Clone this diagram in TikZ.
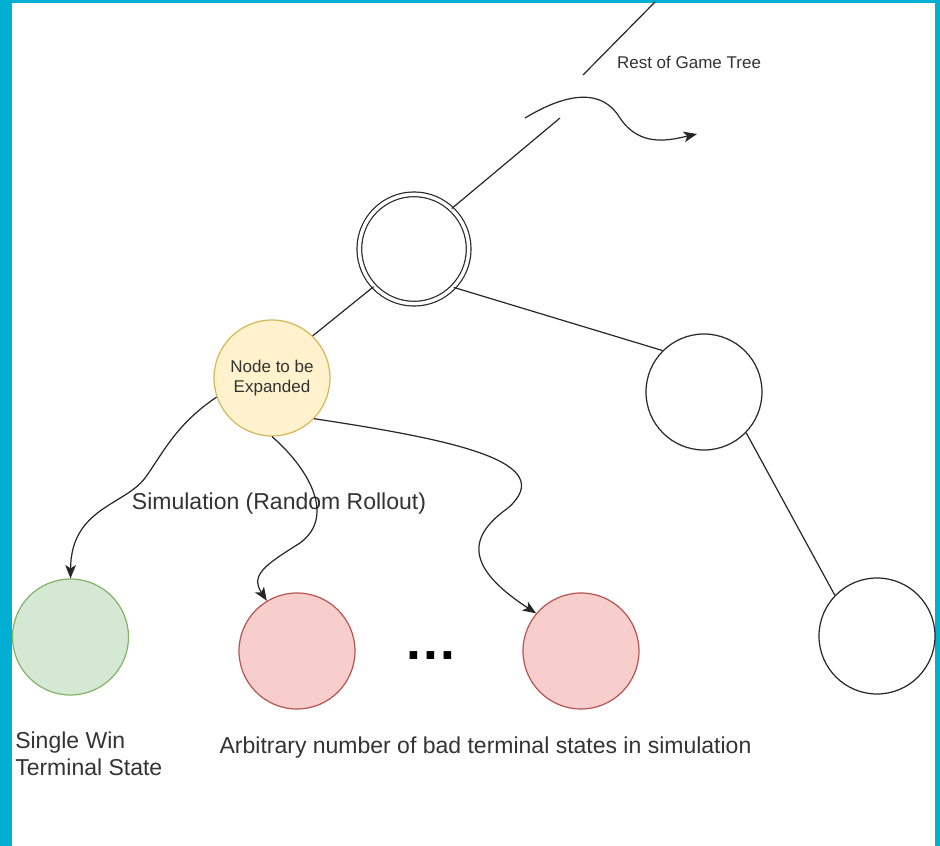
\documentclass[tikz,border=0pt]{standalone}
\usepackage{fontspec}
\setmainfont{Liberation Sans}
\usetikzlibrary{arrows.meta}
\definecolor{framecol}{RGB}{0,175,210}
\definecolor{yfill}{HTML}{FFF2CC}
\definecolor{ydraw}{HTML}{D6B656}
\definecolor{gfill}{HTML}{D5E8D4}
\definecolor{gdraw}{HTML}{82B366}
\definecolor{rfill}{HTML}{F8CECC}
\definecolor{rdraw}{HTML}{B85450}
\definecolor{txt}{HTML}{333333}
\begin{document}
\begin{tikzpicture}[x=0.75pt,y=-0.75pt,
  circ/.style={circle, draw=black!85, line width=0.9pt, minimum size=87pt, inner sep=0pt},
  rootc/.style={circle, draw=black!85, line width=0.9pt, double=white, double distance=2.6pt, minimum size=82pt, inner sep=0pt},
  edge/.style={draw=black!85, line width=0.9pt},
  arr/.style={edge, -{Stealth[length=10pt,width=8pt,inset=2.5pt]}},
  lbl/.style={text=txt, font=\fontsize{17.25pt}{20.25pt}\selectfont, inner sep=0pt},
  small/.style={text=txt, font=\fontsize{12.75pt}{15pt}\selectfont, align=center, inner sep=0pt}]
\fill[framecol] (0,0) rectangle (940,846);
\fill[white] (12,3) rectangle (935,846);
\useasboundingbox (0,0) rectangle (940,846);

% nodes
\node[rootc] (root) at (414,249) {};
\node[circ, fill=yfill, draw=ydraw, small] (exp) at (272,378) {Node to be\\Expanded};
\node[circ] (r1) at (704,392) {};
\node[circ] (r2) at (877,636) {};
\node[circ, fill=gfill, draw=gdraw] (win) at (70.5,637) {};
\node[circ, fill=rfill, draw=rdraw] (bad1) at (297,651) {};
\node[circ, fill=rfill, draw=rdraw] (bad2) at (581,651) {};
\node[text=black, inner sep=0pt, font=\fontsize{40pt}{40pt}\selectfont\bfseries] (dots) at (431,656) {.\kern1.5pt.\kern1.5pt.};

% labels
\node[small, anchor=center] (rest) at (689,62) {Rest of Game Tree};
\node[lbl] (sim) at (279,504) {Simulation (Random Rollout)};
\node[lbl, anchor=north west, align=left] (single) at (15,732) {Single Win\\Terminal State};
\node[lbl] (arb) at (485.5,748) {Arbitrary number of bad terminal states in simulation};

% free coordinates
\coordinate (topA) at (560,118);
\coordinate (topB) at (583,75);
\coordinate (topC) at (655,2);
\coordinate (cs) at (525,118);
\coordinate (cm) at (620,118);
\coordinate (ce) at (697,134);

% tree edges
\draw[edge] (root.47) -- (topA);
\draw[edge] (topB) -- (topC);
\draw[edge] (root.223) -- (exp.46);
\draw[edge] (root.-44) -- (r1.135);
\draw[edge] (r1.-44) -- (r2.136);

% rest of tree arrow
\draw[arr] (cs) .. controls (555,100) and (598,82) .. (cm) .. controls (640,148) and (670,140) .. (ce);

% simulation arrows
\draw[arr] (exp.199) .. controls (175,425) and (162,455) .. (145,478) .. controls (125,505) and (71,508) .. (win.north);
\draw[arr] (exp.270) .. controls (305,465) and (338,515) .. (300,543) .. controls (265,565) and (250,575) .. (bad1.121);
\draw[arr] (exp.-44) .. controls (455,440) and (560,462) .. (508,508) .. controls (470,535) and (462,565) .. (bad2.140);
\end{tikzpicture}
\end{document}
